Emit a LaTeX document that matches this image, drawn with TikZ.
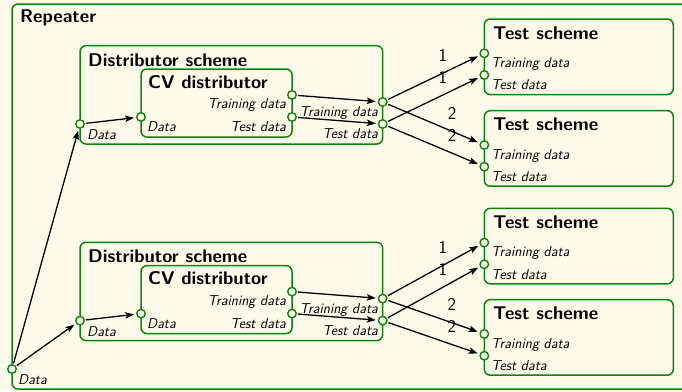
\documentclass[tikz,border=0pt]{standalone}
\usetikzlibrary{arrows.meta}
\definecolor{bgc}{HTML}{FEFBEA}
\definecolor{grn}{HTML}{0A840A}
\tikzset{
  box/.style={draw=grn, line width=1.5pt, rounded corners=6pt, fill=bgc},
  port/.style={circle, draw=grn, line width=1.4pt, fill=bgc, minimum size=8.5pt, inner sep=0pt},
  ttl/.style={font=\sffamily\bfseries\fontsize{18.4}{21}\selectfont, anchor=west, inner sep=0pt},
  plab/.style={font=\sffamily\itshape\fontsize{14.3}{16}\selectfont, inner sep=0pt},
  num/.style={font=\sffamily\fontsize{18}{21}\selectfont, inner sep=0pt},
  arr/.style={-{Stealth[length=9pt,width=6.5pt,inset=2pt]}, line width=1.3pt, shorten >=2pt, shorten <=1pt}
}
\begin{document}
\begin{tikzpicture}[x=1pt,y=-1pt]
\useasboundingbox (0,0) rectangle (682,391);
\fill[bgc] (0,0) rectangle (682,391);
\clip (0,0) rectangle (682,391);
% Repeater
\draw[box] (12,4) rectangle (700,389);
\node[ttl] (rtitle) at (20,18) {Repeater};
\node[port] (rd) at (12,369) {};
\node[plab, anchor=west] (rdl) at (18,380) {Data};
% two distributor schemes
\foreach \i/\o in {1/0, 2/196.6} {
  \draw[box] (80,45.7+\o) rectangle (382.7,144+\o);
  \node[ttl] (dt\i) at (88,60+\o) {Distributor scheme};
  \draw[box] (141,69+\o) rectangle (292,137+\o);
  \node[ttl] (ct\i) at (148,82+\o) {CV distributor};
  \node[port] (din\i) at (80,124+\o) {};
  \node[port] (cin\i) at (141,117+\o) {};
  \node[port] (ctr\i) at (292,95+\o) {};
  \node[port] (cte\i) at (292,117+\o) {};
  \node[port] (dtr\i) at (382.7,102+\o) {};
  \node[port] (dte\i) at (382.7,124+\o) {};
  \node[plab, anchor=west] (dinl\i) at (87,135+\o) {Data};
  \node[plab, anchor=west] (cinl\i) at (147,127+\o) {Data};
  \node[plab, anchor=east] (ctrl\i) at (286,105+\o) {Training data};
  \node[plab, anchor=east] (ctel\i) at (286,127+\o) {Test data};
  \node[plab, anchor=east] (dtrl\i) at (378,113+\o) {Training data};
  \node[plab, anchor=east] (dtel\i) at (378,134+\o) {Test data};
  \draw[arr] (din\i) -- (cin\i);
  \draw[arr] (ctr\i) -- (dtr\i);
  \draw[arr] (cte\i) -- (dte\i);
  \draw[arr] (rd) -- (din\i);
}
% test schemes
\foreach \j/\o in {1/0, 2/91.7, 3/189.3, 4/280.7} {
  \draw[box] (484.3,19+\o) rectangle (673.3,94.5+\o);
  \node[ttl] (tt\j) at (493,33+\o) {Test scheme};
  \node[port] (ttr\j) at (484.3,53.3+\o) {};
  \node[port] (tte\j) at (484.3,75+\o) {};
  \node[plab, anchor=west] (ttrl\j) at (491,64+\o) {Training data};
  \node[plab, anchor=west] (ttel\j) at (491,85+\o) {Test data};
}
% fan-out arrows
\foreach \i/\a/\b in {1/1/2, 2/3/4} {
  \draw[arr] (dtr\i) -- node[num, pos=0.6, yshift=18pt] (n1a\i) {1} (ttr\a);
  \draw[arr] (dte\i) -- node[num, pos=0.6, yshift=18pt] (n1b\i) {1} (tte\a);
  \draw[arr] (dtr\i) -- node[num, pos=0.7, yshift=18pt] (n2a\i) {2} (ttr\b);
  \draw[arr] (dte\i) -- node[num, pos=0.7, yshift=18pt] (n2b\i) {2} (tte\b);
}
\end{tikzpicture}
\end{document}
